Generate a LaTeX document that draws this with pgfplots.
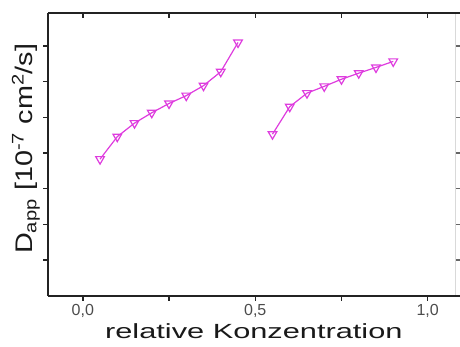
\documentclass[border=0pt]{standalone}
\usepackage{pgfplots}
\pgfplotsset{compat=1.18}
\usepackage{fontspec}
\setmainfont{Liberation Sans}
\definecolor{mag}{RGB}{222,60,222}
\definecolor{spine}{RGB}{35,35,35}
\begin{document}
\begin{tikzpicture}
\pgfplotsset{common/.style={scale only axis, width=407.1pt, height=283.3pt,
  xmin=-0.1, xmax=1.08, ymin=0, ymax=7.94, clip=false,
  axis line style={-, line width=2pt, spine},
  major tick length=5pt,
  tick style={line width=1.5pt, spine}}}
% top axis
\begin{axis}[common, axis x line*=top, hide y axis, tick align=inside,
  xtick={0,0.25,0.5,0.75,1}, xticklabels={}]
\end{axis}
% right axis
\begin{axis}[common, axis y line*=right, hide x axis, tick align=outside,
  y axis line style={line width=0.8pt, black!15},
  ytick={1,2,3,4,5,6,7}, yticklabels={},
  y tick style={line width=1.2pt, black!60}]
\end{axis}
% main axis
\begin{axis}[common, axis x line*=bottom, axis y line*=left, tick align=outside,
  xtick={0,0.25,0.5,0.75,1}, xticklabels={{0,0},,{0,5},,{1,0}},
  ytick={1,2,3,4,5,6,7}, yticklabels={},
  ticklabel style={font=\fontsize{16}{16}\selectfont, text=black!70},
  xlabel={\scalebox{1.5}[1]{relative Konzentration}},
  x label style={at={(axis description cs:0.505,-0.125)}, anchor=center,
    font=\fontsize{20.5}{21}\selectfont, text=black!90},
  ylabel={\scalebox{1.2}[1]{D\textsubscript{app} [10\textsuperscript{-7} cm\textsuperscript{2}/s]}},
  y label style={at={(axis description cs:-0.055,0.519)}, anchor=center,
    font=\fontsize{24}{24}\selectfont, text=black!90},
  ]
\addplot[mag, line width=1.2pt, mark=triangle, mark size=5pt,
  mark options={rotate=180, solid, fill=white, line width=1.2pt}]
  coordinates {(0.05,3.83) (0.10,4.46) (0.15,4.84) (0.20,5.13) (0.25,5.39)
    (0.30,5.61) (0.35,5.89) (0.40,6.28) (0.45,7.10)};
\addplot[mag, line width=1.2pt, mark=triangle, mark size=5pt,
  mark options={rotate=180, solid, fill=white, line width=1.2pt}]
  coordinates {(0.55,4.53) (0.60,5.30) (0.65,5.68) (0.70,5.87) (0.75,6.07)
    (0.80,6.24) (0.85,6.40) (0.90,6.57)};
\draw[spine, line width=2pt] (axis cs:1.07,0) -- (axis cs:1.0936,0);
\draw[spine, line width=2pt] (axis cs:1.07,7.94) -- (axis cs:1.0936,7.94);
\coordinate (BL) at (axis cs:-0.24,-1.4286);
\coordinate (TR) at (axis cs:1.0936,8.291);
\end{axis}
\pgfresetboundingbox
\path[use as bounding box] (BL) rectangle (TR);
\end{tikzpicture}
\end{document}
